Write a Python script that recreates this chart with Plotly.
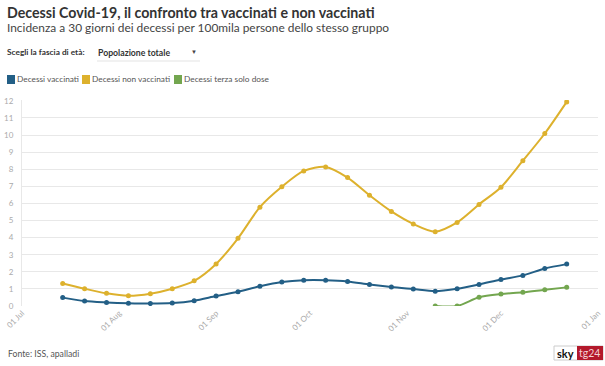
import plotly.graph_objects as go
import pandas as pd

dates = pd.date_range("2021-07-14", periods=24, freq="7D")
vaccinati = [0.49, 0.29, 0.21, 0.16, 0.14, 0.17, 0.31, 0.58, 0.83, 1.15, 1.40, 1.51,
             1.51, 1.44, 1.26, 1.11, 0.99, 0.87, 1.01, 1.26, 1.55, 1.79, 2.19, 2.45]
non_vaccinati = [1.32, 1.01, 0.74, 0.60, 0.72, 1.01, 1.47, 2.46, 3.96, 5.78, 6.97, 7.90,
                 8.13, 7.51, 6.48, 5.53, 4.80, 4.35, 4.89, 5.94, 6.95, 8.50, 10.09, 11.94]
terza_dates = dates[17:]
terza_dose = [0.0, 0.0, 0.51, 0.70, 0.80, 0.95, 1.09]

series_names = ["Decessi vaccinati", "Decessi non vaccinati", "Decessi terza solo dose"]
colors = ["#235f86", "#ddb12d", "#73a64f"]
y_ticks = list(range(0, 13))
x_ticks = pd.date_range("2021-07-01", "2022-01-01", freq="MS")
x_tick_labels = [d.strftime("%d %b") for d in x_ticks]

FONT = "Lato"
L, R, T, B = 22, 7, 100, 60
W, H = 605, 366

fig = go.Figure()
for name, xs, ys, c in [(series_names[0], dates, vaccinati, colors[0]),
                        (series_names[1], dates, non_vaccinati, colors[1]),
                        (series_names[2], terza_dates, terza_dose, colors[2])]:
    fig.add_trace(go.Scatter(x=xs, y=ys, name=name, mode="lines+markers",
                             line=dict(color=c, width=2, shape="spline", smoothing=0.8),
                             marker=dict(color=c, size=5), showlegend=False))

fig.update_layout(
    width=W, height=H,
    margin=dict(l=L, r=R, t=T, b=B),
    paper_bgcolor="white", plot_bgcolor="white",
    font=dict(family=FONT, color="#333"),
    xaxis=dict(range=[x_ticks[0], x_ticks[-1]], tickvals=x_ticks, ticktext=x_tick_labels,
               tickangle=-45, tickfont=dict(size=8, color="#aaa"), showgrid=False,
               zeroline=False, showline=False, ticks="", automargin=False),
    yaxis=dict(range=[0, 12.05], tickvals=y_ticks, tickfont=dict(size=8, color="#aaa"),
               gridcolor="#e8e8e8", gridwidth=1, zeroline=False, showline=True,
               linecolor="#e8e8e8", ticks="", ticklabelstandoff=6, automargin=False),
)

def px(xp, yp):
    return ((xp - L) / (W - L - R), (H - B - yp) / (H - T - B))

def text(xp, yp, t, size, color="#333", bold=False, family=FONT):
    x, y = px(xp, yp)
    fig.add_annotation(x=x, y=y, xref="paper", yref="paper", text=(f"<b>{t}</b>" if bold else t),
                       font=dict(size=size, color=color, family=family), showarrow=False,
                       xanchor="left", yanchor="middle", borderpad=0)

text(6, 12, "Decessi Covid-19, il confronto tra vaccinati e non vaccinati", 14.2, "#333", bold=True)
text(6, 28, "Incidenza a 30 giorni dei decessi per 100mila persone dello stesso gruppo", 11.9, "#444")
text(6, 52, "Scegli la fascia di età:", 8.3, "#333", bold=True)
text(97, 52, "Popolazione totale", 8.7, "#333", bold=True)
text(190, 51, "▼", 6, "#444")
x0, y0 = px(97, 61); x1, _ = px(200, 61)
fig.add_shape(type="line", xref="paper", yref="paper", x0=x0, x1=x1, y0=y0, y1=y0,
              line=dict(color="#e3e3e3", width=1))

leg_x = [7, 82, 174]
for lx, name, c in zip(leg_x, series_names, colors):
    a0, b0 = px(lx, 75); a1, b1 = px(lx + 8, 84)
    fig.add_shape(type="rect", xref="paper", yref="paper", x0=a0, x1=a1, y0=b1, y1=b0,
                  fillcolor=c, line=dict(width=0))
    text(lx + 9, 79.5, name, 8.3, "#555")

text(7, 353, "Fonte: ISS, apalladi", 8.7, "#555")

a0, b0 = px(554, 346); a1, b1 = px(603, 360)
fig.add_shape(type="rect", xref="paper", yref="paper", x0=a0, x1=a1, y0=b1, y1=b0,
              fillcolor="white", line=dict(color="#ccc", width=1))
a0, b0 = px(577, 346); a1, b1 = px(603, 360)
fig.add_shape(type="rect", xref="paper", yref="paper", x0=a0, x1=a1, y0=b1, y1=b0,
              fillcolor="#b3192b", line=dict(width=0))
text(556, 353, "sky", 11, "#111", bold=True)
text(578, 353, "tg24", 10.5, "#f3d0d4")

fig.write_html("out.html", config={"displayModeBar": False},
               post_script="document.body.style.margin='0px';document.body.style.overflow='hidden';")
